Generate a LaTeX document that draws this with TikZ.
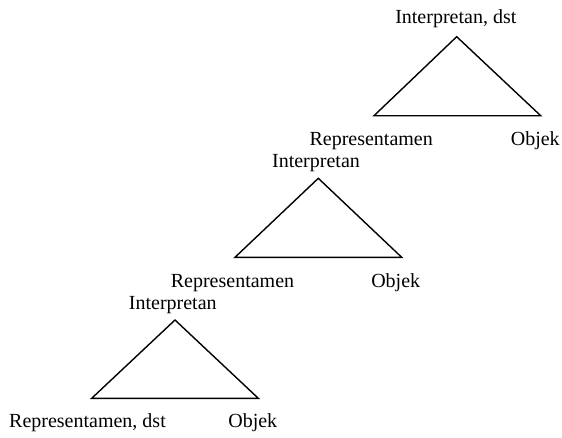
\documentclass[tikz,border=0pt]{standalone}
\usepackage{fontspec}
\setmainfont{Liberation Serif}
\begin{document}
\begin{tikzpicture}[x=1pt,y=-1pt,
  lbl/.style={anchor=base,inner sep=0pt,font=\fontsize{20}{24}\selectfont},
  tri/.style={line width=1.4pt,line join=miter}]
\useasboundingbox (0,0) rectangle (562,437);
% triangle 1
\coordinate (a1) at (456.7,36.7);
\coordinate (l1) at (374,115.7);
\coordinate (r1) at (540.7,115.7);
\draw[tri] (a1) -- (l1) -- (r1) -- cycle;
\node[lbl] (i1) at (455.8,23.5) {Interpretan, dst};
\node[lbl] (p1) at (371.2,145) {Representamen};
\node[lbl] (o1) at (535.3,145) {Objek};
% triangle 2
\coordinate (a2) at (318.3,178.3);
\coordinate (l2) at (235,257.3);
\coordinate (r2) at (401.7,257.3);
\draw[tri] (a2) -- (l2) -- (r2) -- cycle;
\node[lbl] (i2) at (316,167.5) {Interpretan};
\node[lbl] (p2) at (232.5,287) {Representamen};
\node[lbl] (o2) at (395.7,287) {Objek};
% triangle 3
\coordinate (a3) at (175,320);
\coordinate (l3) at (91.7,398.3);
\coordinate (r3) at (258.3,398.3);
\draw[tri] (a3) -- (l3) -- (r3) -- cycle;
\node[lbl] (i3) at (172.8,309.5) {Interpretan};
\node[lbl] (p3) at (87.5,427.5) {Representamen, dst};
\node[lbl] (o3) at (252.8,427.5) {Objek};
\end{tikzpicture}
\end{document}
